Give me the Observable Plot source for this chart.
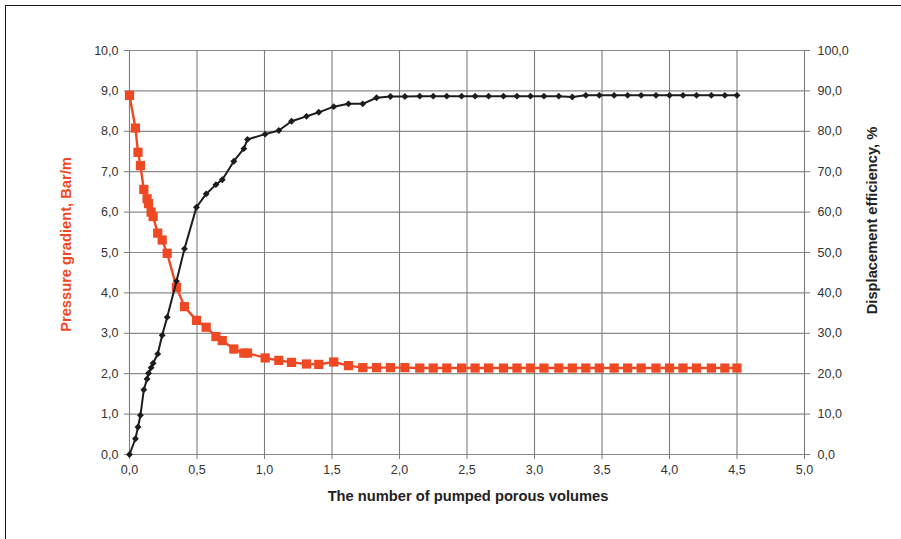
<!DOCTYPE html>
<html>
<head>
<meta charset="utf-8">
<script src="https://cdn.jsdelivr.net/npm/d3@7"></script>
<script src="https://cdn.jsdelivr.net/npm/@observablehq/plot@0.6"></script>
<style>
  html, body { margin: 0; padding: 0; background: #fff; }
  #wrap { position: relative; width: 901px; height: 539px; overflow: hidden; }
  #frame { position: absolute; left: 5px; top: 5px; width: 900px; height: 540px;
           border-left: 1.3px solid #1a1a1a; border-top: 1.3px solid #1a1a1a; pointer-events: none; }
</style>
</head>
<body>
<div id="wrap"><div id="frame"></div></div>
<script>
// Number of pumped porous volumes (shared x for both series)
const pumpedVolumes = [0, 0.044, 0.063, 0.081, 0.106, 0.13, 0.141, 0.16, 0.175, 0.209, 0.242, 0.279,
  0.348, 0.407, 0.496, 0.568, 0.64, 0.687, 0.773, 0.847, 0.874,
  1.005, 1.106, 1.2, 1.311, 1.402, 1.513, 1.622, 1.728, 1.83, 1.933,
  2.04, 2.15, 2.25, 2.35, 2.46, 2.56, 2.66, 2.77, 2.87, 2.97, 3.07, 3.18, 3.28,
  3.38, 3.48, 3.59, 3.69, 3.79, 3.90, 4.00, 4.10, 4.20, 4.31, 4.41, 4.50];

// Pressure gradient, Bar/m (left axis)
const pressureGradient = [8.89, 8.08, 7.48, 7.15, 6.56, 6.33, 6.21, 6.00, 5.89, 5.48, 5.31, 4.98,
  4.14, 3.66, 3.32, 3.15, 2.92, 2.82, 2.61, 2.51, 2.51,
  2.39, 2.33, 2.28, 2.24, 2.23, 2.29, 2.20, 2.15, 2.15, 2.15,
  2.15, 2.14, 2.14, 2.14, 2.14, 2.14, 2.14, 2.14, 2.14, 2.14, 2.14, 2.14, 2.14,
  2.14, 2.14, 2.14, 2.14, 2.14, 2.14, 2.14, 2.14, 2.14, 2.14, 2.14, 2.14];

// Displacement efficiency, % (right axis)
const displacementEfficiency = [0, 3.9, 6.8, 9.7, 16.0, 18.7, 20.1, 21.5, 22.6, 24.9, 29.5, 34.0,
  42.9, 50.9, 61.2, 64.5, 66.8, 68.0, 72.6, 75.7, 78.0,
  79.3, 80.2, 82.5, 83.7, 84.7, 86.1, 86.8, 86.8, 88.3, 88.6,
  88.6, 88.7, 88.7, 88.7, 88.7, 88.7, 88.7, 88.7, 88.7, 88.7, 88.7, 88.7, 88.5,
  88.9, 88.9, 88.9, 88.9, 88.9, 88.9, 88.9, 88.9, 88.9, 88.9, 88.9, 88.9];

const xTicks = [0, 0.5, 1, 1.5, 2, 2.5, 3, 3.5, 4, 4.5, 5];
const leftTicks = [0, 1, 2, 3, 4, 5, 6, 7, 8, 9, 10];
const rightTickValues = [0, 10, 20, 30, 40, 50, 60, 70, 80, 90, 100];

const xTitle = "The number of pumped porous volumes";
const leftTitle = "Pressure gradient, Bar/m";
const rightTitle = "Displacement efficiency, %";

const RED = "#ef4923";
const BLACK = "#1c1c1c";
const comma = d => d.toFixed(1).replace(".", ",");

const pressureData = pumpedVolumes.map((x, i) => ({x, y: pressureGradient[i]}));
// right axis 0–100 shares the plot height with the left 0–10 scale
const effData = pumpedVolumes.map((x, i) => ({x, y: displacementEfficiency[i] / 10}));
const rightScaled = rightTickValues.map(v => v / 10);

const chart = Plot.plot({
  width: 901,
  height: 539,
  marginLeft: 129,
  marginRight: 97,
  marginTop: 50,
  marginBottom: 85,
  x: {domain: [0, 5]},
  y: {domain: [0, 10]},
  style: {fontFamily: "'Liberation Sans', Arial, sans-serif", fontSize: "12.5px", color: "#333", background: "transparent"},
  marks: [
    Plot.gridY(leftTicks, {stroke: "#8a8a8a", strokeOpacity: 1, strokeWidth: 1.2}),
    Plot.gridX(xTicks, {stroke: "#7c7c7c", strokeOpacity: 1, strokeWidth: 1.1}),
    Plot.axisY(leftTicks, {anchor: "left", tickSize: 5, tickPadding: 6, tickFormat: comma, label: null, stroke: "#7c7c7c", fill: "#333"}),
    Plot.axisY(rightScaled, {anchor: "right", tickSize: 5, tickPadding: 8, tickFormat: d => comma(d * 10), label: null, stroke: "#7c7c7c", fill: "#333"}),
    Plot.axisX(xTicks, {anchor: "bottom", tickSize: 5, tickPadding: 6, tickFormat: comma, label: null, stroke: "#7c7c7c", fill: "#333"}),
    Plot.line(pressureData, {x: "x", y: "y", stroke: RED, strokeWidth: 2.4}),
    Plot.dot(pressureData, {x: "x", y: "y", symbol: "square", r: 5.2, fill: RED, stroke: null}),
    Plot.line(effData, {x: "x", y: "y", stroke: BLACK, strokeWidth: 2}),
    Plot.dot(effData, {x: "x", y: "y", symbol: "diamond2", r: 3.1, fill: BLACK, stroke: null}),
    Plot.text([xTitle], {frameAnchor: "bottom", textAnchor: "middle", dx: 1, dy: 46, fontWeight: "bold", fontSize: 14.7, fill: "#222"}),
    Plot.text([leftTitle], {frameAnchor: "left", textAnchor: "middle", dx: -63, dy: -8, rotate: -90, fontWeight: "bold", fontSize: 14.7, fill: RED}),
    Plot.text([rightTitle], {frameAnchor: "right", textAnchor: "middle", dx: 68, dy: -32, rotate: -90, fontWeight: "bold", fontSize: 14.7, fill: "#222"})
  ]
});
document.getElementById("wrap").prepend(chart);
</script>
</body>
</html>
